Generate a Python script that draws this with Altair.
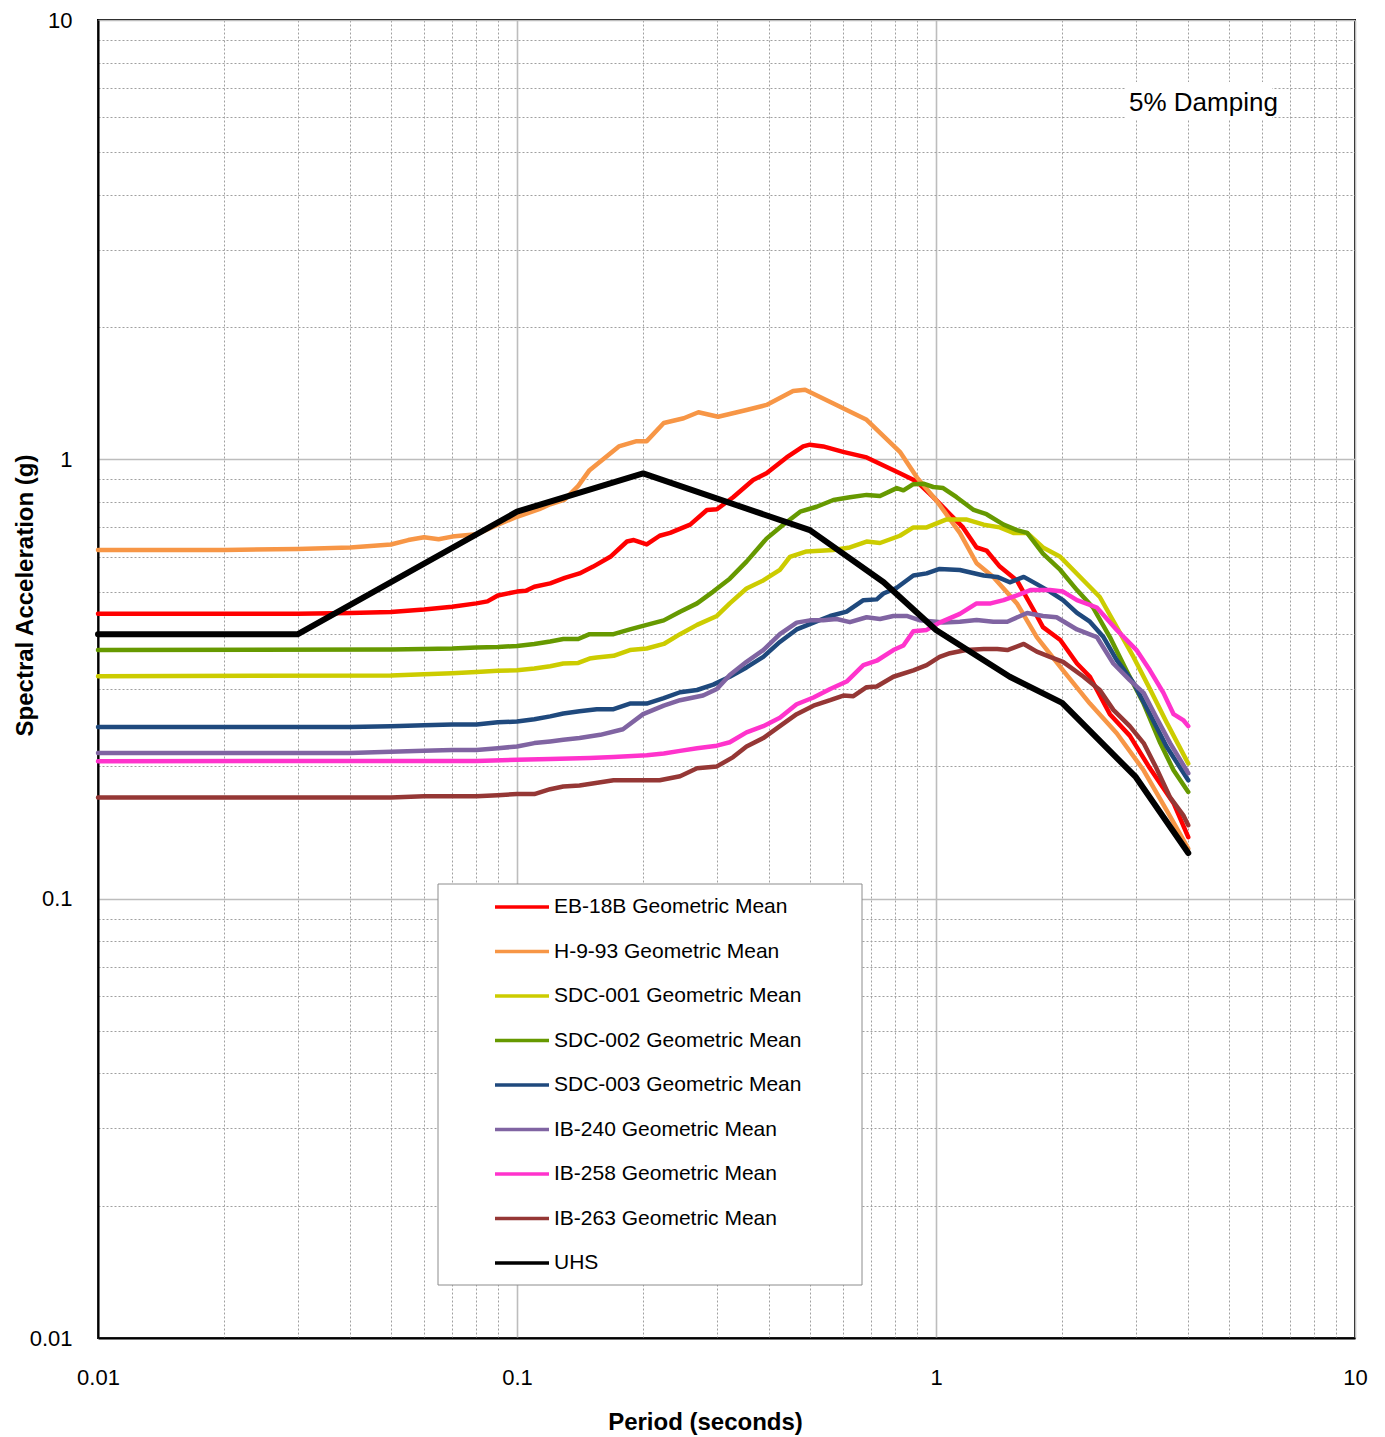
import altair as alt
import pandas as pd

FONT = "Liberation Sans"

# ---------------- data (period in s, spectral acceleration in g) ----------------
eb18b_T = [0.01, 0.03, 0.04, 0.05, 0.06, 0.07, 0.08, 0.085, 0.09, 0.1,
           0.105, 0.11, 0.12, 0.13, 0.141, 0.152, 0.167, 0.183, 0.19, 0.204,
           0.219, 0.232, 0.259, 0.284, 0.30, 0.328, 0.366, 0.394, 0.44, 0.482,
           0.50, 0.538, 0.60, 0.683, 0.82, 0.90, 0.985, 1.08, 1.16, 1.25,
           1.32, 1.42, 1.56, 1.71, 1.80, 1.98, 2.17, 2.33, 2.60, 2.90,
           3.24, 3.69, 4.0]
eb18b_sa = [0.445, 0.445, 0.447, 0.449, 0.455, 0.462, 0.47, 0.475, 0.49, 0.50,
            0.502, 0.513, 0.522, 0.537, 0.55, 0.57, 0.60, 0.65, 0.655, 0.64,
            0.67, 0.68, 0.71, 0.767, 0.77, 0.82, 0.897, 0.93, 1.01, 1.07,
            1.08, 1.07, 1.04, 1.01, 0.93, 0.89, 0.82, 0.75, 0.70, 0.63,
            0.62, 0.57, 0.53, 0.454, 0.415, 0.388, 0.343, 0.32, 0.263, 0.235,
            0.198, 0.165, 0.138]

h993_T = [0.01, 0.02, 0.03, 0.04, 0.05, 0.055, 0.06, 0.065, 0.07, 0.08,
          0.09, 0.1, 0.113, 0.12, 0.13, 0.14, 0.149, 0.175, 0.193, 0.204,
          0.224, 0.25, 0.271, 0.302, 0.353, 0.394, 0.456, 0.487, 0.569, 0.683,
          0.82, 0.90, 1.0, 1.14, 1.25, 1.37, 1.56, 1.74, 2.01, 2.33,
          2.70, 3.13, 3.55, 4.0]
h993_sa = [0.622, 0.622, 0.625, 0.63, 0.64, 0.655, 0.665, 0.658, 0.667, 0.675,
           0.71, 0.74, 0.77, 0.79, 0.81, 0.87, 0.945, 1.07, 1.10, 1.10,
           1.21, 1.24, 1.28, 1.25, 1.295, 1.33, 1.43, 1.44, 1.34, 1.23,
           1.04, 0.91, 0.808, 0.68, 0.58, 0.54, 0.47, 0.394, 0.331, 0.278,
           0.238, 0.196, 0.159, 0.13]

sdc001_T = [0.01, 0.05, 0.06, 0.07, 0.08, 0.09, 0.1, 0.11, 0.12, 0.129,
            0.14, 0.149, 0.155, 0.17, 0.186, 0.204, 0.224, 0.245, 0.269, 0.30,
            0.322, 0.353, 0.387, 0.424, 0.448, 0.491, 0.569, 0.623, 0.683, 0.735,
            0.82, 0.883, 0.95, 1.06, 1.18, 1.30, 1.42, 1.53, 1.65, 1.80,
            1.98, 2.25, 2.46, 2.70, 2.96, 3.24, 3.55, 4.0]
sdc001_sa = [0.321, 0.322, 0.324, 0.326, 0.328, 0.330, 0.331, 0.334, 0.338, 0.343,
             0.344, 0.352, 0.354, 0.357, 0.368, 0.371, 0.38, 0.40, 0.42, 0.44,
             0.47, 0.508, 0.53, 0.56, 0.60, 0.617, 0.622, 0.63, 0.65, 0.645,
             0.67, 0.70, 0.70, 0.73, 0.73, 0.71, 0.70, 0.68, 0.68, 0.63,
             0.60, 0.53, 0.486, 0.415, 0.355, 0.30, 0.252, 0.203]

sdc002_T = [0.01, 0.05, 0.06, 0.07, 0.08, 0.09, 0.1, 0.11, 0.12, 0.129,
            0.14, 0.149, 0.17, 0.186, 0.204, 0.224, 0.245, 0.269, 0.294, 0.322,
            0.353, 0.394, 0.432, 0.474, 0.519, 0.569, 0.623, 0.683, 0.735, 0.806,
            0.836, 0.883, 0.933, 0.985, 1.04, 1.12, 1.23, 1.32, 1.45, 1.56,
            1.65, 1.80, 1.98, 2.17, 2.37, 2.60, 2.85, 3.13, 3.43, 3.69,
            4.0]
sdc002_sa = [0.368, 0.369, 0.37, 0.371, 0.373, 0.374, 0.376, 0.38, 0.385, 0.39,
             0.39, 0.40, 0.40, 0.41, 0.42, 0.43, 0.45, 0.47, 0.50, 0.535,
             0.585, 0.66, 0.71, 0.76, 0.78, 0.808, 0.82, 0.83, 0.825, 0.86,
             0.85, 0.878, 0.88, 0.865, 0.86, 0.82, 0.767, 0.75, 0.71, 0.69,
             0.68, 0.61, 0.56, 0.504, 0.46, 0.394, 0.33, 0.278, 0.226, 0.196,
             0.175]

sdc003_T = [0.01, 0.04, 0.05, 0.06, 0.07, 0.08, 0.09, 0.1, 0.11, 0.12,
            0.129, 0.141, 0.155, 0.17, 0.186, 0.204, 0.224, 0.245, 0.269, 0.294,
            0.322, 0.353, 0.387, 0.424, 0.465, 0.51, 0.559, 0.612, 0.671, 0.722,
            0.749, 0.806, 0.883, 0.95, 1.02, 1.14, 1.30, 1.40, 1.50, 1.62,
            1.74, 1.87, 2.01, 2.17, 2.33, 2.51, 2.70, 2.96, 3.24, 3.55,
            4.0]
sdc003_sa = [0.246, 0.246, 0.247, 0.248, 0.249, 0.249, 0.252, 0.253, 0.256, 0.26,
             0.264, 0.267, 0.27, 0.27, 0.278, 0.278, 0.286, 0.295, 0.2985, 0.307,
             0.32, 0.336, 0.355, 0.384, 0.41, 0.425, 0.44, 0.45, 0.478, 0.48,
             0.495, 0.51, 0.544, 0.55, 0.563, 0.56, 0.544, 0.54, 0.525, 0.54,
             0.52, 0.50, 0.478, 0.447, 0.427, 0.394, 0.349, 0.31, 0.263, 0.222,
             0.186]

ib240_T = [0.01, 0.04, 0.05, 0.06, 0.07, 0.08, 0.09, 0.1, 0.11, 0.12,
           0.129, 0.141, 0.158, 0.179, 0.20, 0.224, 0.245, 0.278, 0.30, 0.322,
           0.353, 0.387, 0.424, 0.465, 0.50, 0.538, 0.579, 0.623, 0.683, 0.735,
           0.791, 0.851, 0.916, 1.0, 1.04, 1.14, 1.25, 1.37, 1.48, 1.65,
           1.80, 1.94, 2.17, 2.42, 2.65, 2.90, 3.13, 3.36, 3.62, 4.0]
ib240_sa = [0.2146, 0.2146, 0.216, 0.217, 0.218, 0.218, 0.22, 0.222, 0.226, 0.228,
            0.23, 0.232, 0.236, 0.243, 0.263, 0.275, 0.283, 0.29, 0.30, 0.323,
            0.346, 0.368, 0.40, 0.425, 0.43, 0.43, 0.433, 0.426, 0.437, 0.433,
            0.44, 0.44, 0.43, 0.427, 0.425, 0.427, 0.431, 0.427, 0.427, 0.447,
            0.44, 0.437, 0.41, 0.394, 0.343, 0.3145, 0.294, 0.258, 0.226, 0.193]

ib258_T = [0.01, 0.08, 0.1, 0.12, 0.149, 0.17, 0.204, 0.224, 0.245, 0.269,
           0.30, 0.322, 0.353, 0.387, 0.424, 0.465, 0.51, 0.559, 0.612, 0.671,
           0.722, 0.791, 0.836, 0.883, 0.95, 1.02, 1.14, 1.25, 1.35, 1.45,
           1.56, 1.68, 1.87, 2.01, 2.17, 2.42, 2.70, 3.01, 3.24, 3.49,
           3.69, 3.89, 4.0]
ib258_sa = [0.2056, 0.2058, 0.207, 0.208, 0.209, 0.21, 0.212, 0.214, 0.217, 0.22,
            0.223, 0.227, 0.239, 0.247, 0.258, 0.277, 0.287, 0.30, 0.312, 0.34,
            0.348, 0.368, 0.377, 0.406, 0.409, 0.425, 0.445, 0.47, 0.47, 0.478,
            0.49, 0.504, 0.504, 0.50, 0.478, 0.46, 0.409, 0.368, 0.331, 0.294,
            0.263, 0.255, 0.247]

ib263_T = [0.01, 0.05, 0.06, 0.08, 0.09, 0.1, 0.11, 0.12, 0.129, 0.141,
           0.17, 0.186, 0.219, 0.245, 0.269, 0.30, 0.328, 0.353, 0.387, 0.424,
           0.465, 0.51, 0.559, 0.601, 0.635, 0.683, 0.722, 0.791, 0.883, 0.95,
           1.02, 1.08, 1.18, 1.30, 1.40, 1.48, 1.62, 1.74, 1.87, 2.01,
           2.25, 2.46, 2.65, 2.90, 3.13, 3.36, 3.62, 3.89, 4.0]
ib263_sa = [0.170, 0.170, 0.171, 0.171, 0.172, 0.173, 0.173, 0.1775, 0.18, 0.181,
            0.186, 0.186, 0.186, 0.19, 0.198, 0.20, 0.21, 0.222, 0.232, 0.247,
            0.263, 0.275, 0.283, 0.29, 0.289, 0.303, 0.304, 0.32, 0.331, 0.34,
            0.355, 0.362, 0.368, 0.37, 0.37, 0.368, 0.38, 0.365, 0.355, 0.346,
            0.32, 0.2985, 0.269, 0.247, 0.226, 0.198, 0.17, 0.155, 0.147]

uhs_T = [0.01, 0.03, 0.1, 0.2, 0.5, 0.75, 1.0, 1.5, 2.0, 3.0, 4.0]
uhs_sa = [0.40, 0.40, 0.76, 0.929, 0.69, 0.525, 0.409, 0.32, 0.279, 0.189, 0.127]

series_names = ["EB-18B Geometric Mean", "H-9-93 Geometric Mean",
                "SDC-001 Geometric Mean", "SDC-002 Geometric Mean",
                "SDC-003 Geometric Mean", "IB-240 Geometric Mean",
                "IB-258 Geometric Mean", "IB-263 Geometric Mean", "UHS"]
series_colors = ["#FF0000", "#F79646", "#CCCC00", "#669900", "#1F497D",
                 "#8064A2", "#FF33CC", "#953735", "#000000"]
series_data = [(eb18b_T, eb18b_sa), (h993_T, h993_sa), (sdc001_T, sdc001_sa),
               (sdc002_T, sdc002_sa), (sdc003_T, sdc003_sa), (ib240_T, ib240_sa),
               (ib258_T, ib258_sa), (ib263_T, ib263_sa), (uhs_T, uhs_sa)]

decades = [0.01, 0.1, 1, 10]
log_ticks = [d * k for d in decades[:-1] for k in range(1, 10)] + [decades[-1]]

rows = []
for name, (T, SA) in zip(series_names, series_data):
    assert len(T) == len(SA), name
    for i, (t, s) in enumerate(zip(T, SA)):
        rows.append({"series": name, "period": t, "sa": s, "idx": i})
df = pd.DataFrame(rows)
legend_df = pd.DataFrame({"series": series_names})
one_row = pd.DataFrame({"k": [0]})

# ---------------- axes ----------------
is_decade = "abs(log(datum.value)/LN10 - round(log(datum.value)/LN10)) < 0.001"
grid_color = {"condition": {"test": is_decade, "value": "#bdbdbd"}, "value": "#a0a0a0"}
grid_dash = {"condition": {"test": is_decade, "value": []}, "value": [2, 2]}
grid_width = {"condition": {"test": is_decade, "value": 1.6}, "value": 1}
label_expr = f"({is_decade}) ? format(datum.value, '~g') : ''"

common_axis = dict(
    values=log_ticks, labelExpr=label_expr, grid=True,
    gridColor=grid_color, gridDash=grid_dash, gridWidth=grid_width,
    ticks=False, labelFlush=False, labelOverlap=False, labelBound=False,
    domainColor="black", domainWidth=2,
    labelFont=FONT, labelFontSize=22, labelColor="black",
    titleFont=FONT, titleFontSize=24, titleFontWeight="bold", titleColor="black",
    titleBaseline="alphabetic",
)
x_axis = alt.Axis(title="Period (seconds)", labelPadding=29, titleX=607, titleY=91, **common_axis)
y_axis = alt.Axis(title="Spectral Acceleration (g)", labelPadding=26, titleX=-66, titleY=575, **common_axis)

x_enc = alt.X("period:Q", scale=alt.Scale(type="log", domain=[0.01, 10], nice=False), axis=x_axis)
y_enc = alt.Y("sa:Q", scale=alt.Scale(type="log", domain=[0.01, 10], nice=False), axis=y_axis)
color_enc = alt.Color("series:N", scale=alt.Scale(domain=series_names, range=series_colors), legend=None)

base = alt.Chart(df)
curves = base.transform_filter(alt.datum.series != "UHS").mark_line(
    strokeWidth=4.5, strokeJoin="round", strokeCap="round"
).encode(x=x_enc, y=y_enc, color=color_enc, detail="series:N")
uhs = base.transform_filter(alt.datum.series == "UHS").mark_line(
    strokeWidth=6, strokeJoin="round", strokeCap="round"
).encode(x=x_enc, y=y_enc, color=color_enc)
main = alt.layer(curves, uhs)

# ---------------- legend (drawn inside the plot) ----------------
leg_y = alt.Y("series:N", sort=series_names,
              scale=alt.Scale(type="point", range=[887, 1243], padding=0), axis=None)
legend_box = alt.Chart(one_row).mark_rect(fill="white", stroke="#8c8c8c", strokeWidth=1).encode(
    x=alt.value(340), x2=alt.value(764), y=alt.value(864), y2=alt.value(1265))
legend_rules = alt.Chart(legend_df).mark_rule(strokeWidth=3.5).encode(
    x=alt.value(397), x2=alt.value(451), y=leg_y, color=color_enc)
legend_text = alt.Chart(legend_df).mark_text(
    align="left", baseline="middle", font=FONT, fontSize=21, color="black"
).encode(x=alt.value(456), y=leg_y, text="series:N")

# ---------------- damping note ----------------
damp_box = alt.Chart(one_row).mark_rect(fill="white").encode(
    x=alt.value(1027), x2=alt.value(1174), y=alt.value(62), y2=alt.value(99))
damp_text = alt.Chart(one_row).mark_text(
    align="left", baseline="alphabetic", font=FONT, fontSize=26, color="black", text="5% Damping"
).encode(x=alt.value(1031), y=alt.value(91))

chart = alt.layer(
    main, legend_box, legend_rules, legend_text, damp_box, damp_text
).resolve_scale(y="independent").properties(
    width=1257, height=1318,
    autosize=alt.AutoSizeParams(type="none"),
    padding={"left": 98, "top": 20, "right": 30, "bottom": 99},
    background="white",
).configure_view(stroke="black", strokeWidth=2)

chart.save("out.html", embed_options={"renderer": "svg", "actions": False})
